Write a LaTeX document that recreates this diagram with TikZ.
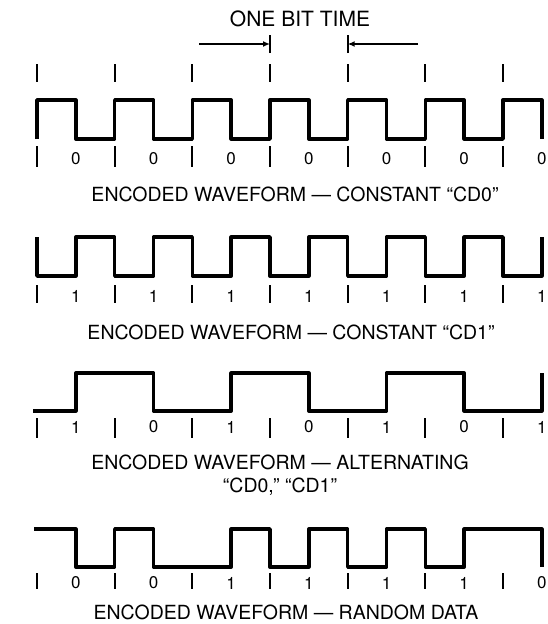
\documentclass[tikz,border=0pt]{standalone}
\usepackage{fontspec}
\setmainfont{TeX Gyre Heros}
\usepackage{tikz}
\usetikzlibrary{positioning, arrows.meta}

\begin{document}
\begin{tikzpicture}[x=1pt, y=-1pt, >={Latex[length=7pt, width=6pt]},
  wave/.style={line width=3.4pt, line join=round},
  tickmark/.style={line width=1.8pt},
  bitlbl/.style={font=\fontsize{17}{18}\selectfont, inner sep=0pt},
  caplbl/.style={font=\fontsize{19.5}{23}\selectfont, inner sep=0pt, align=center}]
  \useasboundingbox (0,0) rectangle (548,624);
  \def\xo{37}
  \def\bt{77.67}
  % bit time markers
  \node[caplbl, font=\fontsize{21}{23}\selectfont] (title) at (300,19) {ONE BIT TIME};
  \coordinate (barL) at ({\xo+3*\bt},44);
  \coordinate (barR) at ({\xo+4*\bt},44);
  \coordinate (tailL) at (199,44);
  \coordinate (tailR) at (418,44);
  \draw[tickmark] ([yshift=-9pt]barL) -- ([yshift=9pt]barL);
  \draw[tickmark] ([yshift=-9pt]barR) -- ([yshift=9pt]barR);
  \draw[tickmark, ->] (tailL) -- (barL);
  \draw[tickmark, ->] (tailR) -- (barR);
  \foreach \i in {0,...,6}
    \draw[tickmark] ({\xo+\i*\bt},64) -- ({\xo+\i*\bt},82);

  % constant CD0
  \draw[wave] (\xo,139) \foreach \i in {0,...,5} {
      |- ({\xo+(\i+0.5)*\bt},100) |- ({\xo+(\i+1)*\bt},139)}
    |- ({\xo+6.5*\bt},100) -- ({\xo+6.5*\bt},139);
  \foreach \i in {0,...,6} {
    \draw[tickmark] ({\xo+\i*\bt},146) -- ({\xo+\i*\bt},167);
    \node[bitlbl] (a\i) at ({\xo+(\i+0.5)*\bt},159) {0};
  }
  \node[caplbl] (capA) at (295,194) {ENCODED WAVEFORM --- CONSTANT ``CD0''};

  % constant CD1
  \draw[wave] (\xo,237) \foreach \i in {0,...,5} {
      |- ({\xo+(\i+0.5)*\bt},276) |- ({\xo+(\i+1)*\bt},237)}
    |- ({\xo+6.5*\bt},276) -- ({\xo+6.5*\bt},237);
  \foreach \i in {0,...,6} {
    \draw[tickmark] ({\xo+\i*\bt},285) -- ({\xo+\i*\bt},303);
    \node[bitlbl] (b\i) at ({\xo+(\i+0.5)*\bt},296) {1};
  }
  \node[caplbl] (capB) at (291,332) {ENCODED WAVEFORM --- CONSTANT ``CD1''};

  % alternating
  \draw[wave] (33,411) -- ({\xo+0.5*\bt},411)
    |- ({\xo+1.5*\bt},373) |- ({\xo+2.5*\bt},411)
    |- ({\xo+3.5*\bt},373) |- ({\xo+4.5*\bt},411)
    |- ({\xo+5.5*\bt},373) |- ({\xo+6.5*\bt},411)
    -- ({\xo+6.5*\bt},373);
  \foreach \v [count=\i from 0] in {1,0,1,0,1,0,1} {
    \draw[tickmark] ({\xo+\i*\bt},418) -- ({\xo+\i*\bt},438);
    \node[bitlbl] (c\i) at ({\xo+(\i+0.5)*\bt},427) {\v};
  }
  \node[caplbl] (capC) at (280,475) {ENCODED WAVEFORM --- ALTERNATING\\``CD0,'' ``CD1''};

  % random data
  \draw[wave] (34,529) -- ({\xo+0.5*\bt},529)
    |- ({\xo+\bt},567) |- ({\xo+1.5*\bt},529)
    |- ({\xo+2.5*\bt},567) |- ({\xo+3*\bt},529)
    |- ({\xo+3.5*\bt},567) |- ({\xo+4*\bt},529)
    |- ({\xo+4.5*\bt},567) |- ({\xo+5*\bt},529)
    |- ({\xo+5.5*\bt},567) |- ({\xo+6.5*\bt},529)
    -- ({\xo+6.5*\bt},567);
  \foreach \v [count=\i from 0] in {0,0,1,1,1,1,0} {
    \draw[tickmark] ({\xo+\i*\bt},573) -- ({\xo+\i*\bt},589);
    \node[bitlbl] (d\i) at ({\xo+(\i+0.5)*\bt},583) {\v};
  }
  \node[caplbl] (capD) at (286,612) {ENCODED WAVEFORM --- RANDOM DATA};
\end{tikzpicture}
\end{document}
